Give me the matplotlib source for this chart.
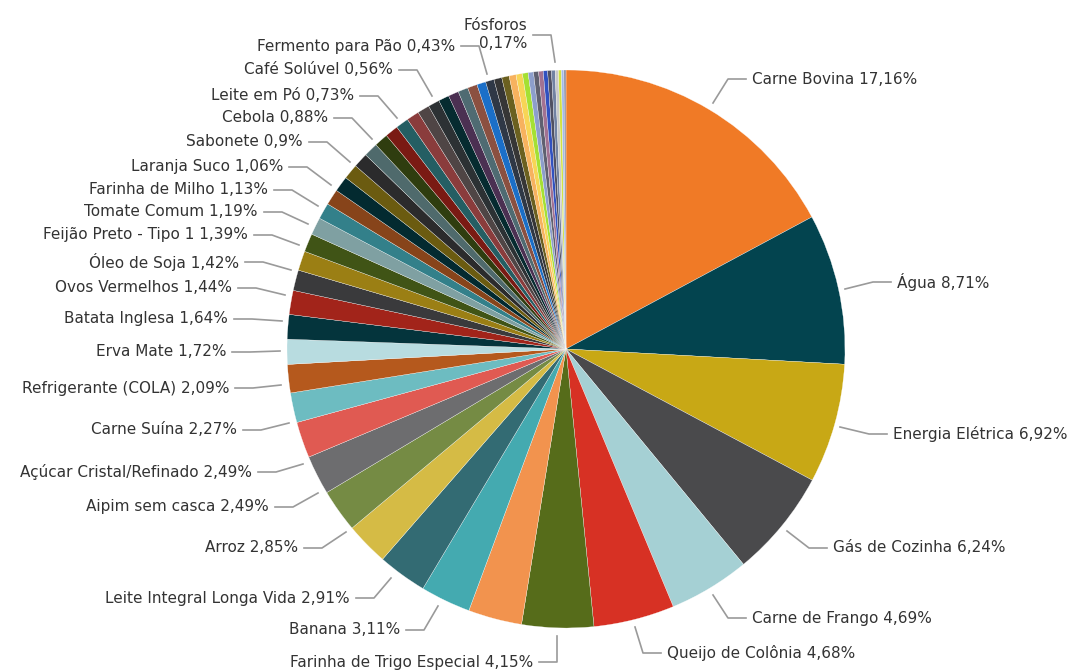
import numpy as np
import matplotlib.pyplot as plt

plt.rcParams['font.family'] = ['DejaVu Sans']

# slices in Power BI order (descending), '' = slice without a visible label
names = ['Carne Bovina', 'Água', 'Energia Elétrica', 'Gás de Cozinha', 'Carne de Frango',
         'Queijo de Colônia', 'Farinha de Trigo Especial', 'Banana', 'Leite Integral Longa Vida',
         'Arroz', 'Aipim sem casca', 'Açúcar Cristal/Refinado', 'Carne Suína', 'Refrigerante (COLA)',
         'Erva Mate', 'Batata Inglesa', 'Ovos Vermelhos', 'Óleo de Soja', 'Feijão Preto - Tipo 1',
         'Tomate Comum', 'Farinha de Milho', 'Laranja Suco',
         '', '', '', 'Sabonete', 'Cebola', '', '', '', '', '', 'Leite em Pó',
         '', '', '', '', '', 'Café Solúvel', '', '', '', 'Fermento para Pão',
         '', '', '', '', '', '', '', '', '', '', 'Fósforos', '', '']
values = [17.16, 8.71, 6.92, 6.24, 4.69,
          4.68, 4.15, 3.11, 2.91,
          2.85, 2.49, 2.49, 2.27, 2.09,
          1.72, 1.64, 1.44, 1.42, 1.39,
          1.19, 1.13, 1.06,
          1.01, 0.94, 0.92, 0.90, 0.88, 0.85, 0.82, 0.80, 0.76, 0.75, 0.73,
          0.70, 0.66, 0.62, 0.60, 0.58, 0.56, 0.52, 0.49, 0.46, 0.43,
          0.40, 0.37, 0.33, 0.31, 0.29, 0.27, 0.25, 0.22, 0.21, 0.19, 0.17, 0.14, 0.12]

colors = ['#F07A26', '#03444F', '#C8A815', '#4A4A4C', '#A5D0D4', '#D73124', '#566C1A', '#F2934E',
          '#44AAB0', '#336B73', '#D5BB45', '#758B44', '#6D6D6F', '#E05A52', '#6DBCC1', '#B5591D',
          '#B8DCE0', '#04343C', '#A2241A', '#3A3A3C', '#9B7F14', '#405416', '#7FA0A2', '#33808A',
          '#87441A', '#032A30', '#6B5B10', '#2B2B2C', '#4F6A6C', '#2F3D0F', '#7A1A13', '#245E63',
          '#8A3C3C', '#4F4545', '#2C3134', '#062B30', '#4B3052', '#4F6B72', '#8B5040', '#1B6FC8',
          '#2F3846', '#363636', '#6B6020', '#F7B25E', '#F7D556', '#A5E033', '#8D9ECB', '#5F6070',
          '#A27292', '#3151C0', '#505062', '#7282A2', '#C9C9C9', '#D2E244', '#A3BAEA', '#9191A1']

# label layout in pixels (y from top): text x (near edge), text y, leader start x, y
right_labels = {
    'Carne Bovina': (752, 79, 713, 103),
    'Água': (897, 282, 845, 289),
    'Energia Elétrica': (893, 434, 840, 427),
    'Gás de Cozinha': (833, 548, 787, 531),
    'Carne de Frango': (752, 618, 713, 595),
    'Queijo de Colônia': (667, 653, 635, 627),
}
left_labels = {
    'Farinha de Trigo Especial': (533, 662, 557, 636),
    'Banana': (400, 630, 438, 606),
    'Leite Integral Longa Vida': (350, 598, 391, 578),
    'Arroz': (298, 548, 346, 532),
    'Aipim sem casca': (269, 507, 318, 493),
    'Açúcar Cristal/Refinado': (252, 472, 303, 464),
    'Carne Suína': (237, 430, 289, 423),
    'Refrigerante (COLA)': (229, 388, 281, 385),
    'Erva Mate': (226, 352, 280, 351),
    'Batata Inglesa': (228, 319, 282, 321),
    'Ovos Vermelhos': (232, 288, 285, 295),
    'Óleo de Soja': (239, 262, 291, 270),
    'Feijão Preto - Tipo 1': (248, 235, 299, 245),
    'Tomate Comum': (258, 212, 308, 224),
    'Farinha de Milho': (268, 190, 318, 206),
    'Laranja Suco': (283, 167, 331, 185),
    'Sabonete': (303, 142, 350, 162),
    'Cebola': (328, 118, 372, 139),
    'Leite em Pó': (354, 96, 397, 118),
    'Café Solúvel': (393, 70, 432, 96),
    'Fermento para Pão': (455, 46, 487, 74),
    'Fósforos': (527, 35, 555, 62),
}

W, H = 1073, 671
fig = plt.figure(figsize=(W / 100, H / 100), dpi=100)
ax = fig.add_axes([0, 0, 1, 1])

ax.pie(values, colors=colors, startangle=90, counterclock=False,
       center=(566, H - 349), radius=279,
       wedgeprops=dict(edgecolor='white', linewidth=0.2))
ax.set_xlim(0, W)
ax.set_ylim(0, H)
ax.set_aspect('equal')
ax.axis('off')

txt_color = '#333333'
line_color = '#9a9a9a'
fs = 11

def fmt(v):
    return f"{v:g}".replace('.', ',') + '%'

for name, v in zip(names, values):
    if not name:
        continue
    if name in right_labels:
        tx, ty, sx, sy = right_labels[name]
        ex = tx - 24
        ax.plot([sx, ex, tx - 6], [H - sy, H - ty, H - ty], color=line_color, lw=1.2)
        ax.text(tx, H - ty, f"{name} {fmt(v)}", ha='left', va='center',
                fontsize=fs, color=txt_color)
    else:
        tx, ty, sx, sy = left_labels[name]
        ex = tx + 24
        ax.plot([sx, ex, tx + 6], [H - sy, H - ty, H - ty], color=line_color, lw=1.2)
        if name == 'Fósforos':
            label = f"{name}\n{fmt(v)}"
        else:
            label = f"{name} {fmt(v)}"
        ax.text(tx, H - ty, label, ha='right', va='center', multialignment='right',
                fontsize=fs, color=txt_color, linespacing=1.25)

fig.savefig('out.png', dpi=100)
